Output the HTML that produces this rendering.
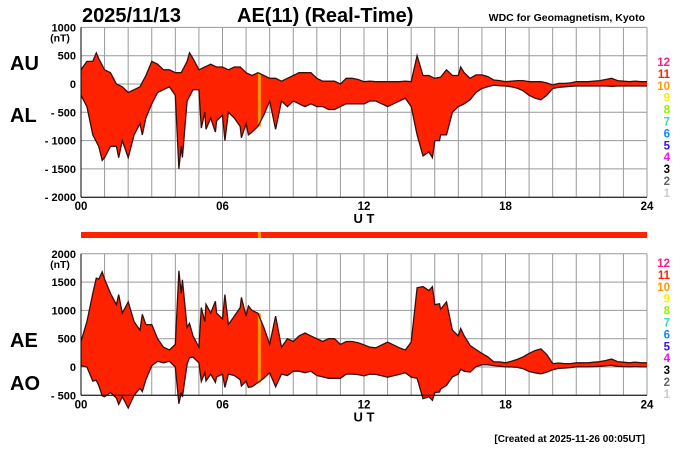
<!DOCTYPE html>
<html><head><meta charset="utf-8">
<style>
body{margin:0;background:#fff;}
svg{display:block;font-family:"Liberation Sans",sans-serif;}
</style></head>
<body>
<svg id="chart" width="700" height="450" viewBox="0 0 700 450">
<g id="grid"></g>
<g id="marks"></g>
<g id="axes"></g>
<text x="82" y="22" font-size="20" font-weight="bold">2025/11/13</text>
<text x="237" y="22" font-size="20" font-weight="bold">AE(11) (Real-Time)</text>
<text x="645" y="21" font-size="10.5" font-weight="bold" text-anchor="end">WDC for Geomagnetism, Kyoto</text>
<text x="10" y="70" font-size="20" font-weight="bold">AU</text>
<text x="10" y="122" font-size="20" font-weight="bold">AL</text>
<text x="10" y="347" font-size="20" font-weight="bold">AE</text>
<text x="10" y="390" font-size="20" font-weight="bold">AO</text>
<text x="645" y="442" font-size="10" font-weight="bold" text-anchor="end">[Created at 2025-11-26 00:05UT]</text>
</svg>
<script>
const hours = ["00","06","12","18","24"];
const topTicks = [1000,500,0,-500,-1000,-1500,-2000];
const botTicks = [2000,1500,1000,500,0,-500];
const legendNums = ["12","11","10","9","8","7","6","5","4","3","2","1"];
const legendColors = ["#ff1a8c","#ff2200","#ff9900","#ffee00","#99ee00","#33ddbb","#1188ff","#3311ff","#ee11ee","#000000","#666666","#cccccc"];
// AU and AL every 15 minutes from 00:00 to 24:00 (nT)
const AU = [250,400,400,450,250,200,0,-50,-150,-100,-50,150,
400,350,250,250,200,200,400,450,250,300,350,300,
300,250,300,300,200,150,200,150,100,100,50,100,
150,200,200,200,100,50,50,50,0,100,100,80,
40,50,40,40,40,40,40,50,40,150,150,150,
100,120,100,150,150,200,100,160,160,130,70,60,
40,50,60,60,40,40,40,20,-20,10,10,20,
40,40,40,50,60,80,100,60,50,40,50,40,40];
const AL = [-200,-400,-900,-1100,-1300,-1100,-1100,-1000,-1100,-900,-700,-600,
-350,-150,-100,-50,-200,-1100,-300,-100,-100,-500,-600,-650,
-550,-500,-600,-750,-700,-850,-750,-550,-300,-250,-300,-400,
-300,-350,-400,-350,-400,-400,-450,-450,-400,-350,-350,-350,
-350,-300,-300,-350,-400,-350,-300,-250,-400,-900,-1100,-1200,
-1000,-900,-700,-500,-400,-350,-280,-150,-80,-50,-20,-30,
-35,-50,-75,-120,-200,-250,-280,-200,-80,-60,-50,-40,
-35,-35,-35,-35,-35,-35,-40,-35,-35,-35,-35,-35,-35];
// short-lived spikes (hour, nT)
const spikeHoursAU = [0.65,4.6,14.25,15.5,16.1];
const spikeValsAU = [550,550,500,250,300];
const spikeHoursAL = [0.9,1.6,2.0,2.6,4.15,4.3,5.1,5.3,5.7,6.1,6.8,7.1,8.25,14.5,14.9,15.2,15.5];
const spikeValsAL = [-1350,-1300,-1300,-900,-1500,-1300,-780,-800,-850,-1000,-950,-900,-800,-1270,-1300,-1000,-900];
const stationGapHour = 7.5;

const NS="http://www.w3.org/2000/svg";
const X0=81,X1=647;
const xs=h=>X0+(X1-X0)*h/24;
const yTop=v=>84-(v)*28.3/500;
const yBot=v=>367-(v)*28.3/500;
const grid=document.getElementById('grid'),marks=document.getElementById('marks'),axes=document.getElementById('axes');
function mk(tag,attrs,parent){const e=document.createElementNS(NS,tag);for(const k in attrs)e.setAttribute(k,attrs[k]);parent.appendChild(e);return e;}

const step=24/(AU.length-1);
function base(arr,t){const i=Math.min(Math.floor(t/step),arr.length-2);const f=t/step-i;return arr[i]*(1-f)+arr[i+1]*f;}
const timeSet=new Set();
AU.forEach((_,i)=>timeSet.add(+(i*step).toFixed(4)));
spikeHoursAU.forEach(t=>timeSet.add(t));
spikeHoursAL.forEach(t=>timeSet.add(t));
const T=[...timeSet].sort((a,b)=>a-b);
function series(arr,sh,sv){return T.map(t=>{const k=sh.indexOf(t);return k>=0?sv[k]:base(arr,t);});}
const au=series(AU,spikeHoursAU,spikeValsAU);
const al=series(AL,spikeHoursAL,spikeValsAL);

function panel(ys,ticks,topV,botV,upper,lower,legTop){
  const yT=ys(topV),yB=ys(botV);
  for(let h=0;h<=24;h++){
    const l=mk('line',{x1:xs(h),x2:xs(h),y1:yT,y2:yB,stroke:'#999','stroke-width':1},grid);
    
    
  }
  ticks.forEach(v=>{
    const l=mk('line',{x1:X0,x2:X1,y1:ys(v),y2:ys(v),stroke:'#999','stroke-width':1},grid);
    
    
    const t=mk('text',{x:76,y:ys(v)+4,'font-size':11,'font-weight':'bold','text-anchor':'end'},axes);
    t.textContent=(v<0?'- '+(-v):String(v));
    
    
  });
  const u=mk('text',{x:60,y:ys(topV)+14,'font-size':10.5,'font-weight':'bold','text-anchor':'middle'},axes);
  u.textContent='(nT)';
  
  
  mk('line',{x1:X0,x2:X0,y1:yT,y2:yB,stroke:'#000','stroke-width':1},axes);
  mk('line',{x1:X0,x2:X1,y1:yB,y2:yB,stroke:'#000','stroke-width':1},axes);
  hours.forEach((s,i)=>{
    const t=mk('text',{x:xs(i*6),y:yB+13,'font-size':11.5,'font-weight':'bold','text-anchor':'middle'},axes);
    t.textContent=s;
    
    
  });
  const ut=mk('text',{x:364,y:yB+26,'font-size':13,'font-weight':'bold','text-anchor':'middle'},axes);
  ut.textContent='U T';
  
  
  const n=T.length;
  let d='',du='',dl='';
  for(let i=0;i<n;i++){const p=xs(T[i]).toFixed(1)+','+ys(upper[i]).toFixed(1);d+=(i?'L':'M')+p;du+=(i?'L':'M')+p;}
  for(let i=n-1;i>=0;i--){d+='L'+xs(T[i]).toFixed(1)+','+ys(lower[i]).toFixed(1);}
  for(let i=0;i<n;i++){dl+=(i?'L':'M')+xs(T[i]).toFixed(1)+','+ys(lower[i]).toFixed(1);}
  const f=mk('path',{d:d+'Z',fill:'#ff2200',stroke:'none'},marks);
  
  
  const gi=T.indexOf(stationGapHour);
  const o=mk('rect',{x:xs(stationGapHour),y:ys(upper[gi]),width:3,height:ys(lower[gi])-ys(upper[gi]),fill:'#ff9900'},marks);
  
  
  const a=mk('path',{d:du,fill:'none',stroke:'#3a0d0d','stroke-width':1.3},marks);
  
  
  const b=mk('path',{d:dl,fill:'none',stroke:'#3a0d0d','stroke-width':1.3},marks);
  
  
  legendNums.forEach((s,i)=>{
    const t=mk('text',{x:670,y:legTop+i*11.9,'font-size':11.5,'font-weight':'bold','text-anchor':'end',fill:legendColors[i]},axes);
    t.textContent=s;
    
    
  });
}
panel(yTop,topTicks,1000,-2000,au,al,66);
const ae=au.map((u,i)=>u-al[i]);
const ao=au.map((u,i)=>(u+al[i])/2);
panel(yBot,botTicks,2000,-500,ae,ao,267);
const s=mk('rect',{x:X0,y:232,width:X1-X0,height:6,fill:'#ff2200'},marks);


const sg=mk('rect',{x:xs(stationGapHour),y:232,width:3,height:6,fill:'#ff9900'},marks);


</script>
</body></html>
